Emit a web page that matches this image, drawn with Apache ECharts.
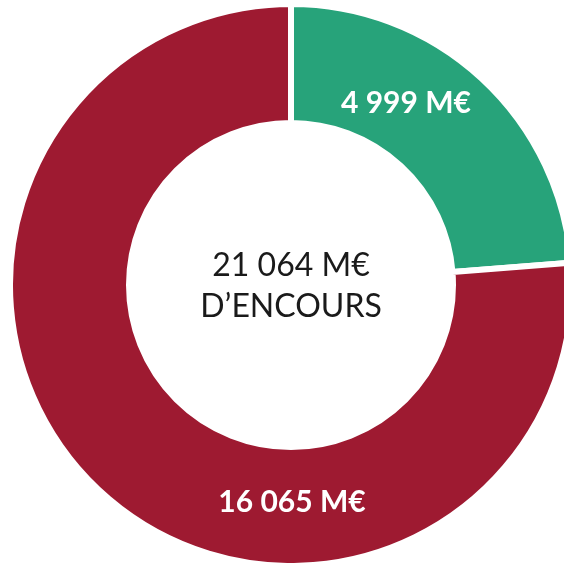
<!DOCTYPE html>
<html>
<head>
<meta charset="utf-8">
<script src="https://cdn.jsdelivr.net/npm/echarts@6/dist/echarts.min.js"></script>
<style>
  html, body { margin: 0; padding: 0; background: #fff; }
  #chart { width: 564px; height: 563px; }
</style>
</head>
<body>
<div id="chart"></div>
<script>
// données
const categories = ['Vert', 'Rouge']
const values = [4999, 16065]
const valueLabels = ['4 999 M€', '16 065 M€']
const totalLabel = '21 064 M€'
const centerCaption = 'D’ENCOURS'

const colors = ['#27a37a', '#9e1a31']
// positions des étiquettes (px)
const labelPos = [[406, 103], [292, 502]]

const chart = echarts.init(document.getElementById('chart'))

chart.setOption({
  backgroundColor: '#fff',
  animation: false,
  series: [{
    type: 'pie',
    center: [291, 285],
    radius: [162, 281],
    startAngle: 90,
    clockwise: true,
    itemStyle: { borderColor: '#fff', borderWidth: 6 },
    label: {
      show: true,
      position: 'inside',
      color: '#fff',
      fontFamily: 'Lato',
      fontWeight: 'bold',
      fontSize: 30,
      formatter: p => valueLabels[p.dataIndex]
    },
    labelLayout: p => ({
      x: labelPos[p.dataIndex][0],
      y: labelPos[p.dataIndex][1],
      align: 'center',
      verticalAlign: 'middle'
    }),
    emphasis: { disabled: true },
    data: categories.map((c, i) => ({
      name: c,
      value: values[i],
      itemStyle: { color: colors[i] }
    }))
  }],
  graphic: [{
    type: 'text',
    x: 291,
    y: 286,
    style: {
      text: totalLabel + '\n' + centerCaption,
      fill: '#1a1a1a',
      font: '32px Lato',
      lineHeight: 41,
      align: 'center',
      verticalAlign: 'middle'
    }
  }]
})
</script>
</body>
</html>
